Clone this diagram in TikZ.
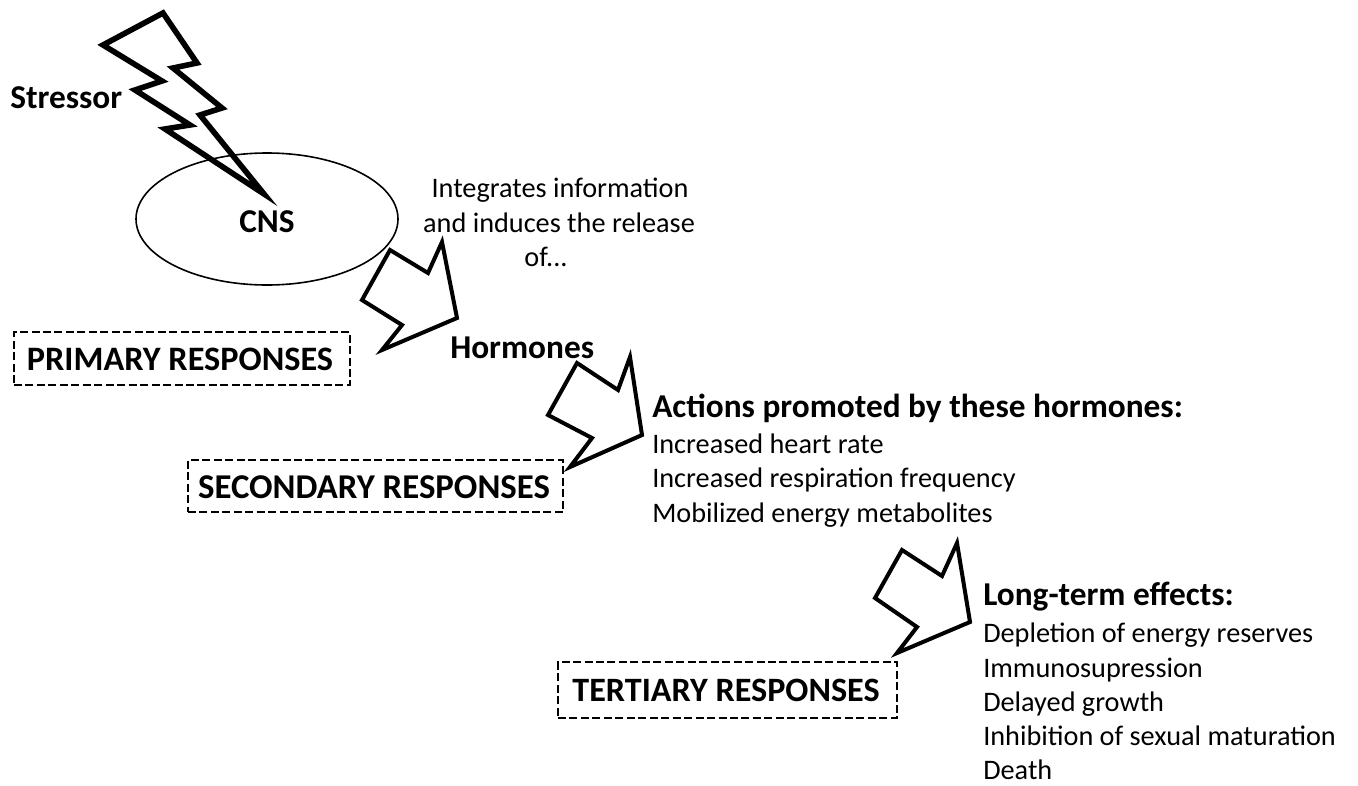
\documentclass[tikz,border=0pt]{standalone}
\usepackage{fontspec}
\setmainfont{Carlito}
\usetikzlibrary{shapes.geometric}
\tikzset{
  bold/.style={font=\bfseries\fontsize{25pt}{30pt}\selectfont, inner sep=0pt},
  reg/.style={font=\fontsize{21.2pt}{25pt}\selectfont, inner sep=0pt},
  respbox/.style={draw, line width=1.5pt, dash pattern=on 6pt off 2.6pt, inner sep=0pt},
  blockarrow/.style={draw, line width=3pt, line join=miter},
  bolt/.style={draw, line width=4.2pt, line join=miter},
}
\begin{document}
\begin{tikzpicture}[x=0.75pt,y=-0.75pt]
\useasboundingbox[fill=white] (0,0) rectangle (1358,785);
% CNS ellipse
\node[draw, ellipse, line width=1.2pt, minimum width=196.5pt, minimum height=99pt, inner sep=0pt] (cns) at (267,219) {};
\node[bold] (cnslabel) at (267,222) {CNS};
% lightning bolt
\draw[bolt] (163,13) -- (197,63) -- (173,68) -- (222,108) -- (200,115) -- (264,194)
  -- (165,129) -- (190,125) -- (135,90) -- (162,81) -- (103,45) -- cycle;
\node[bold, anchor=base west] (stressor) at (10,108) {Stressor};
% text integrates
\node[reg, anchor=base] (int1) at (560,197) {Integrates information};
\node[reg, anchor=base] (int2) at (559,232) {and induces the release};
\node[reg, anchor=base] (int3) at (546,266) {of...};
% block arrows
\draw[blockarrow] (390,250) -- (428,273) -- (442,242) -- (457,318) -- (382,350) -- (402,325) -- (362,300) -- cycle;
\draw[blockarrow] (577,363) -- (618,390) -- (630,357) -- (642,435) -- (570,467) -- (592,438) -- (548,415) -- cycle;
\draw[blockarrow] (902,550) -- (942,576) -- (957,543) -- (970,622) -- (897,653) -- (917,627) -- (875,598) -- cycle;
\node[bold, anchor=base west] (hormones) at (450,358) {Hormones};
% response boxes
\node[respbox, minimum width=252pt, minimum height=39.75pt] (primbox) at (182,358.5) {};
\node[font=\bfseries\fontsize{25.7pt}{30pt}\selectfont, inner sep=0pt] (prim) at (180,359) {PRIMARY RESPONSES};
\node[respbox, minimum width=281.25pt, minimum height=39pt] (secbox) at (375.5,486) {};
\node[font=\bfseries\fontsize{26.1pt}{31pt}\selectfont, inner sep=0pt] (sec) at (374,487) {SECONDARY RESPONSES};
\node[respbox, minimum width=254.25pt, minimum height=42pt] (terbox) at (727.5,690) {};
\node[font=\bfseries\fontsize{25.6pt}{30pt}\selectfont, inner sep=0pt] (ter) at (726,690) {TERTIARY RESPONSES};
% secondary actions
\node[bold, anchor=base west] (acthead) at (652,417) {Actions promoted by these hormones:};
\node[reg, anchor=base west] (act1) at (652,453) {Increased heart rate};
\node[reg, anchor=base west] (act2) at (652,487) {Increased respiration frequency};
\node[reg, anchor=base west] (act3) at (652,522) {Mobilized energy metabolites};
% long-term effects
\node[bold, anchor=base west] (lthead) at (983,605) {Long-term effects:};
\node[reg, anchor=base west] (lt1) at (983,642) {Depletion of energy reserves};
\node[reg, anchor=base west] (lt2) at (983,677) {Immunosupression};
\node[reg, anchor=base west] (lt3) at (983,711) {Delayed growth};
\node[reg, anchor=base west] (lt4) at (983,745) {Inhibition of sexual maturation};
\node[reg, anchor=base west] (lt5) at (983,779) {Death};
\end{tikzpicture}
\end{document}
